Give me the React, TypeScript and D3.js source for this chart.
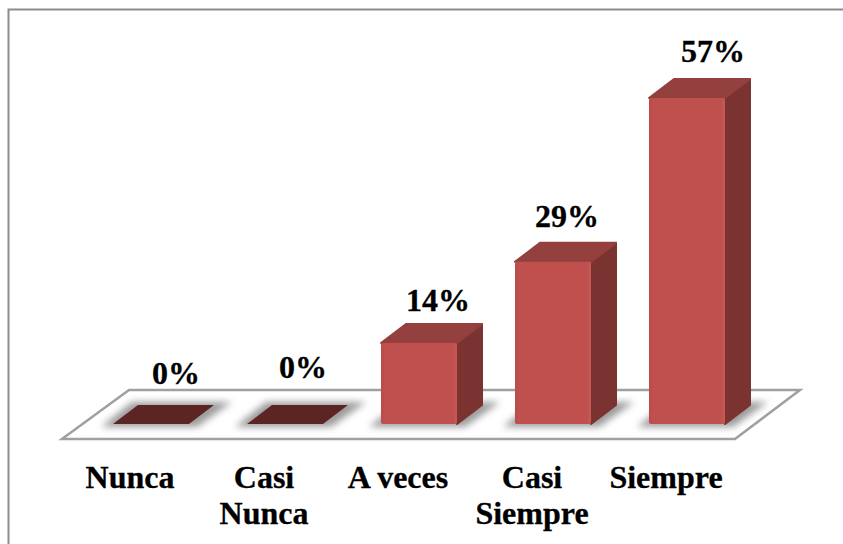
import * as d3 from "d3";

const categories = ["Nunca", "Casi Nunca", "A veces", "Casi Siempre", "Siempre"];
const values = [0, 0, 14.2, 28.4, 57.1];
const valueLabels = ["0%", "0%", "14%", "29%", "57%"];
const tickLines = [["Nunca"], ["Casi", "Nunca"], ["A veces"], ["Casi", "Siempre"], ["Siempre"]];

const width = 843;
const height = 544;
const baseY = 424;
const depthX = 25;
const depthY = 19;
const font = "'Liberation Serif', 'Times New Roman', serif";

// the value labels were placed by hand in the original, so they sit off the bar centre
const labelDx = [25, 18, 19, 14, 26];
const labelDy = [-40, -46, -32, -35, -36];

const x = d3.scaleBand<string>().domain(categories).range([84, 754]).paddingInner(0.4328).paddingOuter(0.2164);
const y = d3.scaleLinear().domain([0, 57.1]).range([baseY, 98]);

const poly = (pts: [number, number][]) => d3.line()(pts) + "Z";

export default function App() {
  const bw = x.bandwidth();
  const floor: [number, number][] = [
    [62, 439],
    [735, 439],
    [800, 390],
    [129, 390],
  ];
  return (
    <svg width={width} height={height} style={{ position: "absolute", left: 0, top: 0, background: "#fff" }}>
      <defs>
        <filter id="blur" x="-30%" y="-60%" width="160%" height="220%">
          <feGaussianBlur stdDeviation="3.5" />
        </filter>
        <linearGradient id="front" x1="0" x2="1" y1="0" y2="0">
          <stop offset="0" stopColor="#b94b49" />
          <stop offset="0.06" stopColor="#c0504d" />
          <stop offset="0.95" stopColor="#c0504d" />
          <stop offset="1" stopColor="#c65a57" />
        </linearGradient>
      </defs>
      <path d="M8.5,544V9.5H843" fill="none" stroke="#8c8c8c" strokeWidth={2} />
      <path d={poly(floor)} fill="#fff" stroke="#a0a0a0" strokeWidth={2.5} />
      {categories.map((c, i) => {
        const x0 = x(c) as number;
        const x1 = x0 + bw;
        const top = y(values[i]);
        const flat = values[i] === 0;
        return (
          <g key={c}>
            <path
              d={poly([
                [x0 - 12, baseY + 3],
                [x1 + 8, baseY + 3],
                [x1 + depthX + 18, baseY - depthY - 3],
                [x0 + depthX - 6, baseY - depthY - 3],
              ])}
              fill="#8a8a8a"
              opacity={0.85}
              filter="url(#blur)"
            />
            {flat ? (
              <path
                d={poly([
                  [x0, baseY],
                  [x1, baseY],
                  [x1 + depthX, baseY - depthY],
                  [x0 + depthX, baseY - depthY],
                ])}
                fill="#5c2524"
              />
            ) : (
              <>
                <path
                  d={poly([
                    [x1, baseY],
                    [x1 + depthX, baseY - depthY],
                    [x1 + depthX, top - depthY],
                    [x1, top],
                  ])}
                  fill="#7b3331"
                  stroke="#7b3331"
                  strokeWidth={2}
                  strokeLinejoin="round"
                />
                <path
                  d={poly([
                    [x0, top],
                    [x1, top],
                    [x1 + depthX, top - depthY],
                    [x0 + depthX, top - depthY],
                  ])}
                  fill="#93403e"
                  stroke="#93403e"
                  strokeWidth={2}
                  strokeLinejoin="round"
                />
                <rect x={x0} y={top} width={bw} height={baseY - top} rx={2} fill="url(#front)" />
              </>
            )}
          </g>
        );
      })}
      <g fontFamily={font} fontWeight="bold" fontSize={32} fill="#000" stroke="#000" strokeWidth={0.3} textAnchor="middle">
        {categories.map((c, i) => (
          <text key={c} x={(x(c) as number) + bw / 2 + labelDx[i]} y={y(values[i]) + labelDy[i]}>
            {valueLabels[i]}
          </text>
        ))}
        {categories.map((c, i) => (
          <text key={c}>
            {tickLines[i].map((t, j) => (
              <tspan key={t} x={(x(c) as number) + bw / 2 - 21} y={488 + j * 36}>
                {t}
              </tspan>
            ))}
          </text>
        ))}
      </g>
    </svg>
  );
}
